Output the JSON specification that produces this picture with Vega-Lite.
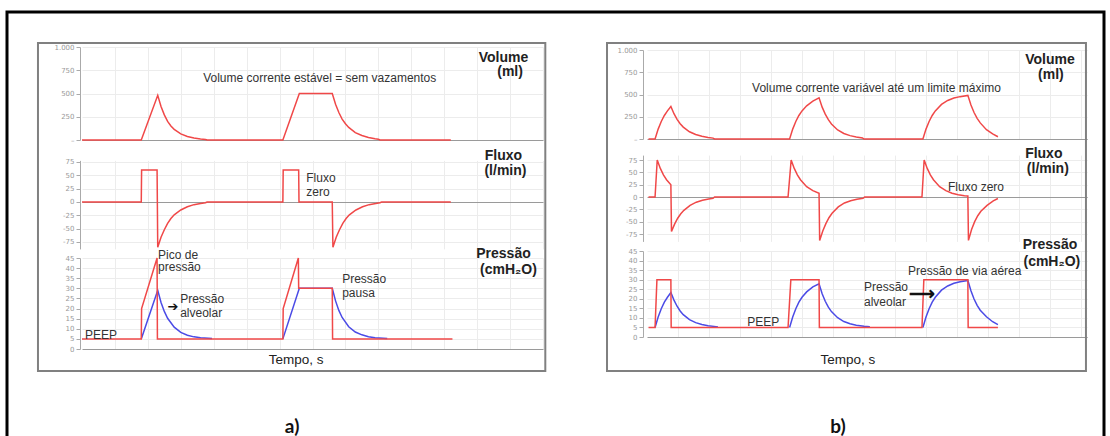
{
  "$schema": "https://vega.github.io/schema/vega-lite/v6.json",
  "width": 1097,
  "height": 440,
  "autosize": {"type": "none"},
  "padding": {"left": 7, "top": 12, "right": 6, "bottom": 0},
  "config": {
    "view": {"stroke": "#000000", "strokeWidth": 3},
    "font": "Liberation Sans",
    "text": {"font": "Liberation Sans"}
  },
  "resolve": {"scale": {"x": "independent", "y": "independent"}, "axis": {"x": "independent", "y": "independent"}},
  "datasets": {
    "a_vol": [
      {"t": 0, "v": 0}, {"t": 1.8, "v": 0}, {"t": 2.3, "v": 480}, {"t": 2.4, "v": 360}, {"t": 2.5, "v": 270},
      {"t": 2.6, "v": 200}, {"t": 2.7, "v": 150}, {"t": 2.8, "v": 115}, {"t": 3.0, "v": 65}, {"t": 3.2, "v": 38},
      {"t": 3.4, "v": 22}, {"t": 3.6, "v": 12}, {"t": 3.75, "v": 6}, {"t": 3.8, "v": 0}, {"t": 6.1, "v": 0},
      {"t": 6.6, "v": 500}, {"t": 7.6, "v": 500}, {"t": 7.7, "v": 385}, {"t": 7.8, "v": 295}, {"t": 7.9, "v": 225},
      {"t": 8.0, "v": 175}, {"t": 8.1, "v": 135}, {"t": 8.3, "v": 80}, {"t": 8.5, "v": 48}, {"t": 8.7, "v": 28},
      {"t": 8.9, "v": 14}, {"t": 9.0, "v": 8}, {"t": 9.05, "v": 0}, {"t": 11.2, "v": 0}
    ],
    "a_flow": [
      {"t": 0, "f": 0}, {"t": 1.8, "f": 0}, {"t": 1.81, "f": 60}, {"t": 2.28, "f": 60}, {"t": 2.3, "f": -85},
      {"t": 2.4, "f": -66}, {"t": 2.5, "f": -52}, {"t": 2.6, "f": -40}, {"t": 2.7, "f": -31}, {"t": 2.8, "f": -24},
      {"t": 3.0, "f": -15}, {"t": 3.2, "f": -9}, {"t": 3.4, "f": -5}, {"t": 3.6, "f": -3}, {"t": 3.75, "f": -1.5},
      {"t": 3.8, "f": 0}, {"t": 6.1, "f": 0}, {"t": 6.11, "f": 60}, {"t": 6.58, "f": 60}, {"t": 6.59, "f": 0},
      {"t": 7.6, "f": 0}, {"t": 7.62, "f": -85}, {"t": 7.72, "f": -66}, {"t": 7.82, "f": -52}, {"t": 7.92, "f": -40},
      {"t": 8.02, "f": -31}, {"t": 8.12, "f": -24}, {"t": 8.32, "f": -15}, {"t": 8.52, "f": -9}, {"t": 8.72, "f": -5},
      {"t": 8.92, "f": -3}, {"t": 9.05, "f": -1.5}, {"t": 9.1, "f": 0}, {"t": 11.2, "f": 0}
    ],
    "a_paw": [
      {"t": 0, "p": 5}, {"t": 1.8, "p": 5}, {"t": 1.81, "p": 20}, {"t": 2.28, "p": 45}, {"t": 2.29, "p": 5},
      {"t": 6.1, "p": 5}, {"t": 6.11, "p": 20}, {"t": 6.57, "p": 45}, {"t": 6.58, "p": 30}, {"t": 7.6, "p": 30},
      {"t": 7.61, "p": 5}, {"t": 11.25, "p": 5}
    ],
    "a_palv": [
      {"seg": 1, "t": 1.8, "p": 5}, {"seg": 1, "t": 2.3, "p": 29}, {"seg": 1, "t": 2.4, "p": 23.0}, {"seg": 1, "t": 2.5, "p": 18.6},
      {"seg": 1, "t": 2.6, "p": 15.2}, {"seg": 1, "t": 2.8, "p": 10.8}, {"seg": 1, "t": 3.0, "p": 8.2}, {"seg": 1, "t": 3.2, "p": 6.8},
      {"seg": 1, "t": 3.4, "p": 6.0}, {"seg": 1, "t": 3.6, "p": 5.6}, {"seg": 1, "t": 3.95, "p": 5.2},
      {"seg": 2, "t": 6.1, "p": 5}, {"seg": 2, "t": 6.6, "p": 30}, {"seg": 2, "t": 7.6, "p": 30}, {"seg": 2, "t": 7.7, "p": 23.8},
      {"seg": 2, "t": 7.8, "p": 19.1}, {"seg": 2, "t": 7.9, "p": 15.6}, {"seg": 2, "t": 8.1, "p": 11.0}, {"seg": 2, "t": 8.3, "p": 8.4},
      {"seg": 2, "t": 8.5, "p": 7.0}, {"seg": 2, "t": 8.7, "p": 6.1}, {"seg": 2, "t": 8.9, "p": 5.6}, {"seg": 2, "t": 9.27, "p": 5.2}
    ],
    "b_vol": [
      {"t": 0.05, "v": 0}, {"t": 0.26, "v": 0}, {"t": 0.36, "v": 111}, {"t": 0.46, "v": 197}, {"t": 0.56, "v": 264},
      {"t": 0.66, "v": 316}, {"t": 0.77, "v": 365}, {"t": 0.87, "v": 284}, {"t": 0.97, "v": 221}, {"t": 1.07, "v": 172},
      {"t": 1.17, "v": 134}, {"t": 1.37, "v": 81}, {"t": 1.57, "v": 50}, {"t": 1.77, "v": 30}, {"t": 1.97, "v": 18},
      {"t": 2.13, "v": 10}, {"t": 2.18, "v": 0}, {"t": 4.6, "v": 0}, {"t": 4.7, "v": 111}, {"t": 4.8, "v": 197},
      {"t": 4.9, "v": 264}, {"t": 5.0, "v": 316}, {"t": 5.15, "v": 373}, {"t": 5.35, "v": 426}, {"t": 5.55, "v": 462},
      {"t": 5.65, "v": 358}, {"t": 5.75, "v": 279}, {"t": 5.85, "v": 217}, {"t": 5.95, "v": 169}, {"t": 6.15, "v": 102},
      {"t": 6.35, "v": 62}, {"t": 6.55, "v": 38}, {"t": 6.75, "v": 23}, {"t": 6.95, "v": 12}, {"t": 7.0, "v": 0},
      {"t": 8.9, "v": 0}, {"t": 9.0, "v": 111}, {"t": 9.1, "v": 197}, {"t": 9.2, "v": 264}, {"t": 9.3, "v": 316},
      {"t": 9.5, "v": 389}, {"t": 9.7, "v": 433}, {"t": 9.9, "v": 460}, {"t": 10.1, "v": 476}, {"t": 10.35, "v": 490},
      {"t": 10.45, "v": 382}, {"t": 10.55, "v": 298}, {"t": 10.65, "v": 232}, {"t": 10.75, "v": 181}, {"t": 10.95, "v": 105},
      {"t": 11.15, "v": 58}, {"t": 11.32, "v": 25}
    ],
    "b_flow": [
      {"t": 0.05, "f": 0}, {"t": 0.26, "f": 0}, {"t": 0.33, "f": 75}, {"t": 0.43, "f": 58}, {"t": 0.53, "f": 45},
      {"t": 0.63, "f": 35}, {"t": 0.77, "f": 25}, {"t": 0.79, "f": -70}, {"t": 0.89, "f": -55}, {"t": 0.99, "f": -43},
      {"t": 1.09, "f": -34}, {"t": 1.19, "f": -27}, {"t": 1.39, "f": -17}, {"t": 1.59, "f": -10.5}, {"t": 1.79, "f": -6.5},
      {"t": 1.99, "f": -4}, {"t": 2.13, "f": -2.5}, {"t": 2.18, "f": 0}, {"t": 4.55, "f": 0}, {"t": 4.65, "f": 75},
      {"t": 4.75, "f": 58}, {"t": 4.85, "f": 45}, {"t": 4.95, "f": 35}, {"t": 5.15, "f": 21}, {"t": 5.35, "f": 13},
      {"t": 5.55, "f": 7.5}, {"t": 5.57, "f": -88}, {"t": 5.67, "f": -69}, {"t": 5.77, "f": -54}, {"t": 5.87, "f": -42},
      {"t": 5.97, "f": -33}, {"t": 6.17, "f": -20}, {"t": 6.37, "f": -12}, {"t": 6.57, "f": -7.5}, {"t": 6.77, "f": -4.5},
      {"t": 6.97, "f": -2.5}, {"t": 7.02, "f": 0}, {"t": 8.87, "f": 0}, {"t": 8.94, "f": 75}, {"t": 9.04, "f": 58},
      {"t": 9.14, "f": 45}, {"t": 9.24, "f": 35}, {"t": 9.44, "f": 21}, {"t": 9.64, "f": 13}, {"t": 9.84, "f": 7.7},
      {"t": 10.04, "f": 4.7}, {"t": 10.24, "f": 2.8}, {"t": 10.35, "f": 2}, {"t": 10.37, "f": -88}, {"t": 10.47, "f": -66},
      {"t": 10.57, "f": -50}, {"t": 10.67, "f": -38}, {"t": 10.77, "f": -29}, {"t": 10.97, "f": -17}, {"t": 11.17, "f": -8},
      {"t": 11.32, "f": -3}
    ],
    "b_paw": [
      {"t": 0.05, "p": 5}, {"t": 0.26, "p": 5}, {"t": 0.32, "p": 30}, {"t": 0.77, "p": 30}, {"t": 0.78, "p": 5},
      {"t": 4.55, "p": 5}, {"t": 4.64, "p": 30}, {"t": 5.55, "p": 30}, {"t": 5.56, "p": 5}, {"t": 8.87, "p": 5},
      {"t": 8.93, "p": 30}, {"t": 10.35, "p": 30}, {"t": 10.36, "p": 5}, {"t": 11.32, "p": 5}
    ],
    "b_palv": [
      {"seg": 1, "t": 0.26, "p": 5}, {"seg": 1, "t": 0.36, "p": 10.5}, {"seg": 1, "t": 0.46, "p": 14.8}, {"seg": 1, "t": 0.56, "p": 18.2},
      {"seg": 1, "t": 0.66, "p": 20.8}, {"seg": 1, "t": 0.77, "p": 23.3}, {"seg": 1, "t": 0.87, "p": 19.3}, {"seg": 1, "t": 0.97, "p": 16.1},
      {"seg": 1, "t": 1.07, "p": 13.6}, {"seg": 1, "t": 1.17, "p": 11.7}, {"seg": 1, "t": 1.37, "p": 9.1}, {"seg": 1, "t": 1.57, "p": 7.5},
      {"seg": 1, "t": 1.77, "p": 6.5}, {"seg": 1, "t": 1.97, "p": 5.9}, {"seg": 1, "t": 2.29, "p": 5.3},
      {"seg": 2, "t": 4.6, "p": 5}, {"seg": 2, "t": 4.7, "p": 10.5}, {"seg": 2, "t": 4.8, "p": 14.8}, {"seg": 2, "t": 4.9, "p": 18.2},
      {"seg": 2, "t": 5.0, "p": 20.8}, {"seg": 2, "t": 5.15, "p": 23.6}, {"seg": 2, "t": 5.35, "p": 26.2}, {"seg": 2, "t": 5.55, "p": 27.8},
      {"seg": 2, "t": 5.65, "p": 22.6}, {"seg": 2, "t": 5.75, "p": 18.7}, {"seg": 2, "t": 5.85, "p": 15.6}, {"seg": 2, "t": 5.95, "p": 13.3},
      {"seg": 2, "t": 6.15, "p": 10.1}, {"seg": 2, "t": 6.35, "p": 8.1}, {"seg": 2, "t": 6.55, "p": 6.9}, {"seg": 2, "t": 6.75, "p": 6.2},
      {"seg": 2, "t": 7.0, "p": 5.6}, {"seg": 2, "t": 7.19, "p": 5.3},
      {"seg": 3, "t": 8.9, "p": 5}, {"seg": 3, "t": 9.0, "p": 10.5}, {"seg": 3, "t": 9.1, "p": 14.8}, {"seg": 3, "t": 9.2, "p": 18.2},
      {"seg": 3, "t": 9.3, "p": 20.8}, {"seg": 3, "t": 9.5, "p": 24.5}, {"seg": 3, "t": 9.7, "p": 26.7}, {"seg": 3, "t": 9.9, "p": 28.1},
      {"seg": 3, "t": 10.1, "p": 28.9}, {"seg": 3, "t": 10.35, "p": 29.6}, {"seg": 3, "t": 10.45, "p": 24.2}, {"seg": 3, "t": 10.55, "p": 19.9},
      {"seg": 3, "t": 10.65, "p": 16.6}, {"seg": 3, "t": 10.75, "p": 14.0}, {"seg": 3, "t": 10.95, "p": 10.6}, {"seg": 3, "t": 11.15, "p": 8.0},
      {"seg": 3, "t": 11.32, "p": 6.5}
    ],
    "a_vol_head": [{"t": 12.8, "y": 882, "label": "Volume"}, {"t": 13.0, "y": 731, "label": "(ml)"}],
    "a_vol_note": [{"t": 3.68, "y": 667, "label": "Volume corrente estável = sem vazamentos"}],
    "a_flow_head": [{"t": 12.8, "y": 86, "label": "Fluxo"}, {"t": 12.86, "y": 58, "label": "(l/min)"}],
    "a_flow_note": [{"t": 6.81, "y": 45, "label": "Fluxo"}, {"t": 6.81, "y": 19, "label": "zero"}],
    "a_pres_head": [{"t": 12.8, "y": 47, "label": "Pressão"}, {"t": 12.95, "y": 39, "label": "(cmH₂O)"}],
    "a_pres_note": [
      {"t": 2.31, "y": 46.5, "label": "Pico de"}, {"t": 2.31, "y": 40.5, "label": "pressão"},
      {"t": 2.98, "y": 24.7, "label": "Pressão"}, {"t": 2.98, "y": 17.8, "label": "alveolar"},
      {"t": 0.09, "y": 6.9, "label": "PEEP"}, {"t": 7.9, "y": 34.6, "label": "Pressão"}, {"t": 7.9, "y": 27.7, "label": "pausa"}
    ],
    "b_vol_head": [{"t": 13.0, "y": 888, "label": "Volume"}, {"t": 13.03, "y": 720, "label": "(ml)"}],
    "b_vol_note": [{"t": 3.39, "y": 573, "label": "Volume corrente variável até um limite máximo"}],
    "b_flow_head": [{"t": 12.8, "y": 87, "label": "Fluxo"}, {"t": 12.93, "y": 57, "label": "(l/min)"}],
    "b_flow_note": [{"t": 9.71, "y": 20, "label": "Fluxo zero"}],
    "b_pres_head": [{"t": 13.0, "y": 48, "label": "Pressão"}, {"t": 13.06, "y": 39, "label": "(cmH₂O)"}],
    "b_pres_note": [
      {"t": 3.23, "y": 7.8, "label": "PEEP"}, {"t": 8.42, "y": 34.5, "label": "Pressão de via aérea"},
      {"t": 7.0, "y": 26.0, "label": "Pressão"}, {"t": 7.0, "y": 18.3, "label": "alveolar"}
    ]
  },
  "layer": [
    {
      "layer": [
        {
          "data": {"name": "a_vol"},
          "mark": {"type": "line", "color": "#f04848", "strokeWidth": 1.5},
          "encoding": {
            "x": {"field": "t", "type": "quantitative", "scale": {"domain": [0, 14], "range": [75, 536], "nice": false, "zero": false},
              "axis": {"orient": "top", "values": [1,2,3,4,5,6,7,8,9,10,11,12,13,14], "grid": true, "gridColor": "#ececec", "domain": false, "ticks": false, "labels": false, "title": null}},
            "y": {"field": "v", "type": "quantitative", "scale": {"domain": [0, 1000], "range": [128, 35], "nice": false, "zero": false},
              "axis": {"orient": "left", "offset": -73, "values": [0, 250, 500, 750, 1000], "labelExpr": "datum.value == 1000 ? '1.000' : datum.value == 0 ? '–' : datum.label",
                "title": null, "grid": true, "gridColor": {"condition": {"test": "datum.value === 0", "value": "#9a9a9a"}, "value": "#ececec"},
                "domainColor": "#aaaaaa", "tickColor": "#aaaaaa", "tickSize": 4, "labelColor": "#999999", "labelFont": "DejaVu Sans", "labelFontSize": 7, "labelPadding": 2}}
          }
        },
        {
          "data": {"name": "a_vol_head"},
          "mark": {"type": "text", "fontWeight": "bold", "fontSize": 14, "color": "#222222", "align": "center", "baseline": "middle"},
          "encoding": {"x": {"field": "t", "type": "quantitative"}, "y": {"field": "y", "type": "quantitative"}, "text": {"field": "label"}}
        },
        {
          "data": {"name": "a_vol_note"},
          "mark": {"type": "text", "fontSize": 12, "color": "#333333", "align": "left", "baseline": "middle"},
          "encoding": {"x": {"field": "t", "type": "quantitative"}, "y": {"field": "y", "type": "quantitative"}, "text": {"field": "label"}}
        }
      ]
    },
    {
      "layer": [
        {
          "data": {"name": "a_flow"},
          "mark": {"type": "line", "color": "#f04848", "strokeWidth": 1.5},
          "encoding": {
            "x": {"field": "t", "type": "quantitative", "scale": {"domain": [0, 14], "range": [75, 536], "nice": false, "zero": false},
              "axis": {"orient": "top", "values": [1,2,3,4,5,6,7,8,9,10,11,12,13,14], "grid": true, "gridColor": "#ececec", "domain": false, "ticks": false, "labels": false, "title": null}},
            "y": {"field": "f", "type": "quantitative", "scale": {"domain": [-88, 78], "range": [236.9, 148.4], "nice": false, "zero": false},
              "axis": {"orient": "left", "offset": -73, "values": [-75, -50, -25, 0, 25, 50, 75], "labelExpr": "datum.value < 0 ? '-' + abs(datum.value) : datum.label",
                "title": null, "grid": true, "gridColor": {"condition": {"test": "datum.value === 0", "value": "#9a9a9a"}, "value": "#ececec"},
                "domainColor": "#aaaaaa", "tickColor": "#aaaaaa", "tickSize": 4, "labelColor": "#999999", "labelFont": "DejaVu Sans", "labelFontSize": 7, "labelPadding": 2}}
          }
        },
        {
          "data": {"name": "a_flow_head"},
          "mark": {"type": "text", "fontWeight": "bold", "fontSize": 14, "color": "#222222", "align": "center", "baseline": "middle"},
          "encoding": {"x": {"field": "t", "type": "quantitative"}, "y": {"field": "y", "type": "quantitative"}, "text": {"field": "label"}}
        },
        {
          "data": {"name": "a_flow_note"},
          "mark": {"type": "text", "fontSize": 12, "color": "#333333", "align": "left", "baseline": "middle"},
          "encoding": {"x": {"field": "t", "type": "quantitative"}, "y": {"field": "y", "type": "quantitative"}, "text": {"field": "label"}}
        }
      ]
    },
    {
      "layer": [
        {
          "data": {"name": "a_palv"},
          "mark": {"type": "line", "color": "#4b4be6", "strokeWidth": 1.5},
          "encoding": {
            "x": {"field": "t", "type": "quantitative", "scale": {"domain": [0, 14], "range": [75, 536], "nice": false, "zero": false},
              "axis": {"orient": "top", "values": [1,2,3,4,5,6,7,8,9,10,11,12,13,14], "grid": true, "gridColor": "#ececec", "domain": false, "ticks": false, "labels": false, "title": null}},
            "y": {"field": "p", "type": "quantitative", "scale": {"domain": [0, 45], "range": [337, 246], "nice": false, "zero": false},
              "axis": {"orient": "left", "offset": -73, "values": [0,5,10,15,20,25,30,35,40,45],
                "title": null, "grid": true, "gridColor": {"condition": {"test": "datum.value === 0", "value": "#9a9a9a"}, "value": "#ececec"},
                "domainColor": "#aaaaaa", "tickColor": "#aaaaaa", "tickSize": 4, "labelColor": "#999999", "labelFont": "DejaVu Sans", "labelFontSize": 7, "labelPadding": 2}},
            "detail": {"field": "seg", "type": "nominal"}
          }
        },
        {
          "data": {"values": [{}]},
          "mark": {"type": "rect", "filled": false, "stroke": "#808080", "strokeWidth": 2},
          "encoding": {
            "x": {"datum": -1.337, "type": "quantitative"},
            "x2": {"datum": 14.07},
            "y": {"datum": 151.3, "type": "quantitative"},
            "y2": {"datum": -10.9}
          }
        },
        {
          "data": {"name": "a_paw"},
          "mark": {"type": "line", "color": "#f04848", "strokeWidth": 1.5},
          "encoding": {"x": {"field": "t", "type": "quantitative"}, "y": {"field": "p", "type": "quantitative"}}
        },
        {
          "data": {"name": "a_pres_head"},
          "mark": {"type": "text", "fontWeight": "bold", "fontSize": 14, "color": "#222222", "align": "center", "baseline": "middle"},
          "encoding": {"x": {"field": "t", "type": "quantitative"}, "y": {"field": "y", "type": "quantitative"}, "text": {"field": "label"}}
        },
        {
          "data": {"name": "a_pres_note"},
          "mark": {"type": "text", "fontSize": 12, "color": "#333333", "align": "left", "baseline": "middle"},
          "encoding": {"x": {"field": "t", "type": "quantitative"}, "y": {"field": "y", "type": "quantitative"}, "text": {"field": "label"}}
        },
        {
          "data": {"values": [{}]},
          "mark": {"type": "text", "text": "➔", "font": "DejaVu Sans", "fontSize": 13, "color": "#111111", "align": "center", "baseline": "middle"},
          "encoding": {"x": {"datum": 2.76, "type": "quantitative"}, "y": {"datum": 20.8, "type": "quantitative"}}
        },
        {
          "data": {"values": [{}]},
          "mark": {"type": "text", "text": "Tempo, s", "fontSize": 13.5, "color": "#222222", "align": "center", "baseline": "middle"},
          "encoding": {"x": {"datum": 6.5, "type": "quantitative"}, "y": {"datum": -5.4, "type": "quantitative"}}
        },
        {
          "data": {"values": [{}]},
          "mark": {"type": "text", "text": "a)", "font": "Lato", "fontSize": 19, "fontWeight": "bold", "color": "#111111", "align": "center", "baseline": "middle"},
          "encoding": {"x": {"datum": 6.38, "type": "quantitative"}, "y": {"datum": -38.6, "type": "quantitative"}}
        }
      ]
    },
    {
      "layer": [
        {
          "data": {"name": "b_vol"},
          "mark": {"type": "line", "color": "#f04848", "strokeWidth": 1.5},
          "encoding": {
            "x": {"field": "t", "type": "quantitative", "scale": {"domain": [0, 14.2], "range": [640, 1080.2], "nice": false, "zero": false},
              "axis": {"orient": "top", "values": [1,2,3,4,5,6,7,8,9,10,11,12,13,14], "grid": true, "gridColor": "#ececec", "domain": false, "ticks": false, "labels": false, "title": null}},
            "y": {"field": "v", "type": "quantitative", "scale": {"domain": [0, 1000], "range": [127, 38], "nice": false, "zero": false},
              "axis": {"orient": "left", "offset": -636, "values": [0, 250, 500, 750, 1000], "labelExpr": "datum.value == 1000 ? '1.000' : datum.value == 0 ? '–' : datum.label",
                "title": null, "grid": true, "gridColor": {"condition": {"test": "datum.value === 0", "value": "#9a9a9a"}, "value": "#ececec"},
                "domainColor": "#aaaaaa", "tickColor": "#aaaaaa", "tickSize": 4, "labelColor": "#999999", "labelFont": "DejaVu Sans", "labelFontSize": 7, "labelPadding": 2}}
          }
        },
        {
          "data": {"name": "b_vol_head"},
          "mark": {"type": "text", "fontWeight": "bold", "fontSize": 14, "color": "#222222", "align": "center", "baseline": "middle"},
          "encoding": {"x": {"field": "t", "type": "quantitative"}, "y": {"field": "y", "type": "quantitative"}, "text": {"field": "label"}}
        },
        {
          "data": {"name": "b_vol_note"},
          "mark": {"type": "text", "fontSize": 12, "color": "#333333", "align": "left", "baseline": "middle"},
          "encoding": {"x": {"field": "t", "type": "quantitative"}, "y": {"field": "y", "type": "quantitative"}, "text": {"field": "label"}}
        }
      ]
    },
    {
      "layer": [
        {
          "data": {"name": "b_flow"},
          "mark": {"type": "line", "color": "#f04848", "strokeWidth": 1.5},
          "encoding": {
            "x": {"field": "t", "type": "quantitative", "scale": {"domain": [0, 14.2], "range": [640, 1080.2], "nice": false, "zero": false},
              "axis": {"orient": "top", "values": [1,2,3,4,5,6,7,8,9,10,11,12,13,14], "grid": true, "gridColor": "#ececec", "domain": false, "ticks": false, "labels": false, "title": null}},
            "y": {"field": "f", "type": "quantitative", "scale": {"domain": [-90, 85], "range": [229.4, 143.1], "nice": false, "zero": false},
              "axis": {"orient": "left", "offset": -636, "values": [-75, -50, -25, 0, 25, 50, 75], "labelExpr": "datum.value < 0 ? '-' + abs(datum.value) : datum.label",
                "title": null, "grid": true, "gridColor": {"condition": {"test": "datum.value === 0", "value": "#9a9a9a"}, "value": "#ececec"},
                "domainColor": "#aaaaaa", "tickColor": "#aaaaaa", "tickSize": 4, "labelColor": "#999999", "labelFont": "DejaVu Sans", "labelFontSize": 7, "labelPadding": 2}}
          }
        },
        {
          "data": {"name": "b_flow_head"},
          "mark": {"type": "text", "fontWeight": "bold", "fontSize": 14, "color": "#222222", "align": "center", "baseline": "middle"},
          "encoding": {"x": {"field": "t", "type": "quantitative"}, "y": {"field": "y", "type": "quantitative"}, "text": {"field": "label"}}
        },
        {
          "data": {"name": "b_flow_note"},
          "mark": {"type": "text", "fontSize": 12, "color": "#333333", "align": "left", "baseline": "middle"},
          "encoding": {"x": {"field": "t", "type": "quantitative"}, "y": {"field": "y", "type": "quantitative"}, "text": {"field": "label"}}
        }
      ]
    },
    {
      "layer": [
        {
          "data": {"name": "b_palv"},
          "mark": {"type": "line", "color": "#4b4be6", "strokeWidth": 1.5},
          "encoding": {
            "x": {"field": "t", "type": "quantitative", "scale": {"domain": [0, 14.2], "range": [640, 1080.2], "nice": false, "zero": false},
              "axis": {"orient": "top", "values": [1,2,3,4,5,6,7,8,9,10,11,12,13,14], "grid": true, "gridColor": "#ececec", "domain": false, "ticks": false, "labels": false, "title": null}},
            "y": {"field": "p", "type": "quantitative", "scale": {"domain": [0, 45], "range": [325, 239], "nice": false, "zero": false},
              "axis": {"orient": "left", "offset": -636, "values": [0,5,10,15,20,25,30,35,40,45],
                "title": null, "grid": true, "gridColor": {"condition": {"test": "datum.value === 0", "value": "#9a9a9a"}, "value": "#ececec"},
                "domainColor": "#aaaaaa", "tickColor": "#aaaaaa", "tickSize": 4, "labelColor": "#999999", "labelFont": "DejaVu Sans", "labelFontSize": 7, "labelPadding": 2}},
            "detail": {"field": "seg", "type": "nominal"}
          }
        },
        {
          "data": {"values": [{}]},
          "mark": {"type": "rect", "filled": false, "stroke": "#808080", "strokeWidth": 2},
          "encoding": {
            "x": {"datum": -1.29, "type": "quantitative"},
            "x2": {"datum": 14.16},
            "y": {"datum": 153.8, "type": "quantitative"},
            "y2": {"datum": -17.8}
          }
        },
        {
          "data": {"name": "b_paw"},
          "mark": {"type": "line", "color": "#f04848", "strokeWidth": 1.5},
          "encoding": {"x": {"field": "t", "type": "quantitative"}, "y": {"field": "p", "type": "quantitative"}}
        },
        {
          "data": {"name": "b_pres_head"},
          "mark": {"type": "text", "fontWeight": "bold", "fontSize": 14, "color": "#222222", "align": "center", "baseline": "middle"},
          "encoding": {"x": {"field": "t", "type": "quantitative"}, "y": {"field": "y", "type": "quantitative"}, "text": {"field": "label"}}
        },
        {
          "data": {"name": "b_pres_note"},
          "mark": {"type": "text", "fontSize": 12, "color": "#333333", "align": "left", "baseline": "middle"},
          "encoding": {"x": {"field": "t", "type": "quantitative"}, "y": {"field": "y", "type": "quantitative"}, "text": {"field": "label"}}
        },
        {
          "data": {"values": [{}]},
          "mark": {"type": "text", "text": "⟶", "fontSize": 18, "fontWeight": "bold", "color": "#111111", "align": "center", "baseline": "middle"},
          "encoding": {"x": {"datum": 8.86, "type": "quantitative"}, "y": {"datum": 22, "type": "quantitative"}}
        },
        {
          "data": {"values": [{}]},
          "mark": {"type": "text", "text": "Tempo, s", "fontSize": 13.5, "color": "#222222", "align": "center", "baseline": "middle"},
          "encoding": {"x": {"datum": 6.48, "type": "quantitative"}, "y": {"datum": -12, "type": "quantitative"}}
        },
        {
          "data": {"values": [{}]},
          "mark": {"type": "text", "text": "b)", "font": "Lato", "fontSize": 19, "fontWeight": "bold", "color": "#111111", "align": "center", "baseline": "middle"},
          "encoding": {"x": {"datum": 6.16, "type": "quantitative"}, "y": {"datum": -47, "type": "quantitative"}}
        }
      ]
    }
  ]
}
